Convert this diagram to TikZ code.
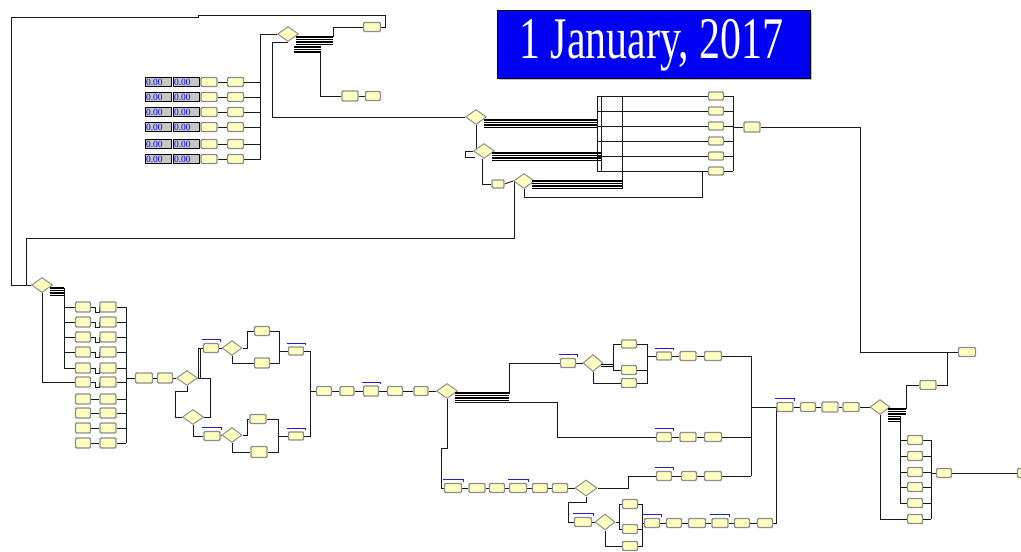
\documentclass[tikz,border=0pt]{standalone}
\usepackage{fontspec}
\setmainfont{Liberation Serif}
\usetikzlibrary{shapes.geometric,backgrounds,calc}
\definecolor{modfill}{HTML}{FFFFC0}
\definecolor{modedge}{HTML}{8E8E8E}
\definecolor{qblue}{HTML}{2020D0}
\definecolor{titleblue}{HTML}{0000F5}
\tikzset{
 mod/.style={draw=modedge, line width=1.4pt, fill=modfill, rounded corners=1.2pt, minimum width=16pt, minimum height=9pt, inner sep=0pt},
 dec/.style={diamond, draw=modedge, line width=1pt, fill=modfill, minimum width=21pt, minimum height=15pt, inner sep=0pt},
 disp/.style={draw=black, line width=1pt, fill=gray!45, minimum width=26pt, minimum height=8.5pt, inner sep=0pt, text=blue, font=\fontsize{9.5}{9}\selectfont},
 wire/.style={draw=black!90, line width=0.9pt},
 bund/.style={draw=black, line width=1.3pt},
 qbar/.style={draw=qblue, line width=1.1pt},
}
\newcommand\amod[4][]{\node[mod,#1] (#2) at (#3,#4) {};}
\newcommand\adec[4][]{\node[dec,#1] (#2) at (#3,#4) {};}
\newcommand\aqbar[1]{\draw[qbar] ($(#1.north west)+(-1,-3)$) -- ($(#1.north east)+(1,-3)$) -- ++(0,2);}
\begin{document}
\begin{tikzpicture}[x=1pt,y=-1pt]
\useasboundingbox (0,0) rectangle (1021,552);
\clip (0,0) rectangle (1021,552);
% title
\fill[gray!50] (499,12) rectangle (812,80);
\node[fill=titleblue, draw=black, line width=1pt, minimum width=313pt, minimum height=68pt, inner sep=0pt] (title) at (654,44) {};
\node[anchor=base, text=white, inner sep=0pt] (ttext) at (651.5,58) {\scalebox{0.712}[1]{\fontsize{59}{59}\selectfont 1 January, 2017}};
% ---------- top-left block ----------
\foreach \i/\y in {1/82,2/97,3/112,4/127,5/144,6/159}{
  \node[disp] (da\i) at (158.5,\y) {\makebox[25pt][l]{0.00}};
  \node[disp] (db\i) at (186.5,\y) {\makebox[25pt][l]{0.00}};
  \amod{ta\i}{209}{\y}
  \amod{tp\i}{235.5}{\y}
}
\adec{t1}{288}{34}
\amod[minimum width=17pt]{tr1}{372}{27}
\amod[minimum height=10pt]{tr2}{350}{96}
\amod[minimum width=15pt]{tr3}{373}{96}
% ---------- top-middle block ----------
\adec{d1}{476}{117}
\adec{d2}{484}{151}
\adec{d3}{524}{181}
\amod[minimum width=12pt,minimum height=8pt]{ma}{498}{184}
\foreach \i/\y in {1/96,2/111,3/126,4/141,5/156,6/171}{
  \amod[minimum width=15pt,minimum height=8pt]{r\i}{716}{\y}
}
\amod[minimum height=10pt]{ro}{752}{127}
\amod[minimum width=17pt]{rr}{967}{352}
\amod{as}{928}{385}
% ---------- lower-left block ----------
\adec{ll}{42}{285}
\foreach \i/\y in {1/307,2/322,3/337,4/352,5/368,6/382,7/399,8/413,9/428,10/443}{
  \amod[minimum width=15pt,minimum height=10pt]{l\i}{83}{\y}
  \amod[minimum height=10pt]{q\i}{108}{\y}
}
\amod[minimum width=17pt,minimum height=10pt]{n1}{144}{378}
\amod[minimum width=15pt,minimum height=10pt]{n2}{165}{378}
\adec{a}{187}{378}
\adec{b}{193}{417}
\amod[minimum width=15pt]{qa}{211}{348}
\amod{qb}{212}{436}
\adec[minimum width=20pt]{c1}{232}{348}
\adec[minimum width=20pt]{c2}{232}{435}
\amod[minimum width=15pt]{u1}{262}{331}
\amod[minimum width=15pt,minimum height=10pt]{u2}{262}{363}
\amod{u3}{258}{419}
\amod[minimum height=11pt]{u4}{259}{452}
\amod[minimum width=15pt,minimum height=8pt]{v1}{296}{351}
\amod[minimum width=15pt,minimum height=8pt]{v2}{296}{436}
\amod[minimum width=15pt]{w1}{324}{391}
\amod[minimum width=14pt]{w2}{347}{391}
\amod[minimum width=15pt,minimum height=10pt]{w3}{371}{391}
\amod[minimum width=15pt]{w4}{395}{391}
\amod[minimum width=14pt]{w5}{421}{391}
\adec{d}{447}{391}
% ---------- lower-middle block ----------
\amod[minimum width=15pt]{e1}{568}{363}
\adec[minimum width=20pt,minimum height=17pt]{e}{593}{363}
\amod[minimum width=15pt,minimum height=8pt]{g1}{629}{344}
\amod[minimum width=15pt]{g2}{629}{370}
\amod[minimum width=15pt]{g3}{629}{383}
\amod[minimum width=15pt,minimum height=8pt]{h1}{664}{356}
\amod{h2}{688}{356}
\amod[minimum width=17pt]{h3}{713}{356}
\amod[minimum width=15pt]{k1}{664}{437}
\amod{k2}{688}{437}
\amod[minimum width=17pt]{k3}{713}{437}
\amod[minimum width=17pt]{f1}{453}{488}
\amod{f2}{477}{488}
\amod[minimum width=15pt]{f3}{497}{488}
\amod[minimum width=17pt]{f4}{518}{488}
\amod[minimum width=15pt]{f5}{540}{488}
\amod[minimum width=15pt]{f6}{560}{488}
\adec[minimum width=22pt,minimum height=16pt]{fd}{586}{488}
\amod[minimum width=15pt]{j1}{664}{476}
\amod[minimum width=15pt]{j2}{689}{476}
\amod[minimum width=17pt]{j3}{713}{476}
\amod[minimum width=17pt]{p1}{583}{522}
\adec[minimum width=20pt,minimum height=16pt]{gd}{605}{522}
\amod[minimum width=15pt]{gx1}{630}{504}
\amod[minimum width=15pt]{gx2}{630}{529}
\amod[minimum width=15pt]{gx3}{630}{546}
\amod[minimum width=15pt]{s1}{652}{523}
\amod[minimum width=15pt]{s2}{674}{523}
\amod[minimum width=17pt]{s3}{697}{523}
\amod{s4}{720}{523}
\amod[minimum width=15pt]{s5}{742}{523}
\amod[minimum width=15pt]{s6}{765}{523}
% ---------- right block ----------
\amod{m1}{785}{407}
\amod[minimum width=15pt]{m2}{808}{407}
\amod[minimum height=10pt]{m3}{830}{407}
\amod{m4}{851}{407}
\adec[minimum width=20pt]{h}{880}{407}
\foreach \i/\y in {1/440,2/456,3/472,4/487,5/503,6/519}{
  \amod[minimum width=15pt]{z\i}{915}{\y}
}
\amod[minimum width=15pt]{y1}{944}{473}
\amod[minimum width=17pt]{ycut}{1026}{473}
% queue bars
\foreach \n in {qa,qb,v1,v2,w3,e1,h1,k1,j1,f1,f4,p1,s1,s4,m1}{\aqbar{\n}}
% bundles
\foreach \k in {37,39.5,42,44.5} \draw[bund] (296,\k) -- (333,\k);
\foreach \k in {47,49.5,52} \draw[bund] (294,\k) -- (321,\k);
\foreach \k in {120,122.5,125,127.5} \draw[bund] (484,\k) -- (597,\k);
\foreach \k in {153,155.5,158,160.5} \draw[bund] (492,\k) -- (601,\k);
\foreach \k in {181,183.5,186,188.5} \draw[bund] (532,\k) -- (622,\k);
\foreach \k in {288,290.5,293,295.5} \draw[bund] (50,\k) -- (64,\k);
\foreach \k in {393,395.5,398,400.5} \draw[bund] (455,\k) -- (509,\k);
\foreach \k in {364.5,366.5} \draw[bund] (601,\k) -- (613,\k);
\foreach \k in {409,411.5,414} \draw[bund] (888,\k) -- (906,\k);
\foreach \k in {416.5,419,421.5} \draw[bund] (888,\k) -- (900,\k);
% ---------- connectors ----------
\begin{pgfonlayer}{background}
\coordinate (tbus) at (260,34);
\foreach \i in {1,...,6}{
  \draw[wire] (ta\i.east) -- (tp\i.west);
  \draw[wire] (tp\i.east) -| (tbus);
}
\draw[wire] (tbus) -- (t1.west);
\coordinate (b1) at (333,37);
\coordinate (b2) at (320,52);
\draw[wire] (b1) |- (tr1.west);
\draw[wire] (b2) |- (tr2.west);
\draw[wire] (tr2.east) -- (tr3.west);
\coordinate (topa) at (198,15);
\coordinate (leftc) at (11,285);
\draw[wire] (tr1.east) -- ++(4,0) |- (topa) -- ++(0,2) -| (leftc) -- (ll.west);
\draw[wire] (t1.south) -| (272,117) -- (d1.west);
% top-middle
\coordinate (vbus) at (597,96);
\coordinate (rbus) at (733,96);
\foreach \i in {1,...,6}{
  \draw[wire] (vbus |- r\i.west) -- (r\i.west);
  \draw[wire] (r\i.east) -- (rbus |- r\i.east);
}
\draw[wire] (597,96) -- (597,171);
\draw[wire] (601,96) -- (601,171);
\draw[wire] (622,96) -- (622,188.5);
\draw[wire] (733,96) -- (733,171);
\draw[wire] (rbus |- ro.west) -- (ro.west);
\draw[wire] (ro.east) -| (860,352) -- (rr.west);
\draw[wire] (947,352) |- (as.east);
\draw[wire] (as.west) -| (906,409);
\draw[wire] (d1.south) -- (d1.south |- d2.center);
\draw[wire] (d2.west) -- ++(-8,0) -- ++(0,6) -- ++(10,0);
\draw[wire] ([xshift=-2pt]d2.south) |- (ma.west);
\draw[wire] (ma.east) -- (d3.west);
\draw[wire] ([xshift=1pt]d3.west) |- (26,238) -- (26,285);
\draw[wire] (702,171) |- (d3.south |- 0,197) -- (d3.south);
% lower-left
\coordinate (lbus) at (64,288);
\draw[wire] (64,288) -- (64,368);
\foreach \i in {1,...,5}{\draw[wire] (lbus |- l\i.west) -- (l\i.west);}
\draw[wire] (ll.south) |- (l6.west);
\foreach \i in {1,...,6}{\draw[wire] (l\i.east) -- ++(4,0) |- ++(4,5) |- (q\i.west);}
\foreach \i in {7,...,10}{\draw[wire] (l\i.east) -- (q\i.west);}
\coordinate (qbus) at (126,307);
\foreach \i in {1,...,10}{\draw[wire] (q\i.east) -- (qbus |- q\i.east);}
\draw[wire] (126,307) -- (126,443);
\draw[wire] (qbus |- n1.west) -- (n1.west);
\draw[wire] (n1.east) -- (n2.west);
\draw[wire] (n2.east) -- (a.west);
\draw[wire] (a.east) -| (198,348) -- (qa.west);
\draw[wire] (200.5,378) -- (200.5,348);
\draw[wire] (a.east) -| (210,417) -- (b.east);
\draw[wire] (a.south) |- (175,391) |- (b.west);
\draw[wire] (b.south) |- (qb.west);
\draw[wire] (qa.east) -- (c1.west);
\draw[wire] (qb.east) -- (c2.west);
\draw[wire] (c1.east) -- ++(5,0) |- (u1.west);
\draw[wire] (c1.south) |- (u2.west);
\draw[wire] (c2.east) -- ++(4.5,0) |- (u3.west);
\draw[wire] (c2.south) |- (u4.west);
\draw[wire] (u1.east) -| (279,351);
\draw[wire] (u2.east) -| (279,351) -- (v1.west);
\draw[wire] (u3.east) -| (278,436);
\draw[wire] (u4.east) -| (278,436) -- (v2.west);
\draw[wire] (v1.east) -| (310,391);
\draw[wire] (v2.east) -| (310,391) -- (w1.west);
\draw[wire] (w1.east) -- (w2.west);
\draw[wire] (w2.east) -- (w3.west);
\draw[wire] (w3.east) -- (w4.west);
\draw[wire] (w4.east) -- (w5.west);
\draw[wire] (w5.east) -- (d.west);
% lower-middle
\draw[wire] (509,394) |- (e1.west);
\draw[wire] (e1.east) -- (e.west);
\draw[wire] (455,402) -- (557,402) |- (k1.west);
\draw[wire] (d.south) |- (441,448) |- (f1.west);
\draw[wire] (g1.west) -| (613,370) -- (g2.west);
\draw[wire] (e.south) |- (g3.west);
\draw[wire] (g1.east) -| (647,383) -- (g3.east);
\draw[wire] (g2.east) -- (647,370);
\draw[wire] (647,356) -- (h1.west);
\draw[wire] (h1.east) -- (h2.west);
\draw[wire] (h2.east) -- (h3.west);
\draw[wire] (h3.east) -| (751,476);
\draw[wire] (k1.east) -- (k2.west);
\draw[wire] (k2.east) -- (k3.west);
\draw[wire] (k3.east) -- (751,437);
\draw[wire] (751,407) -- (m1.west);
\draw[wire] (f1.east) -- (f2.west);
\draw[wire] (f2.east) -- (f3.west);
\draw[wire] (f3.east) -- (f4.west);
\draw[wire] (f4.east) -- (f5.west);
\draw[wire] (f5.east) -- (f6.west);
\draw[wire] (f6.east) -- (fd.west);
\draw[wire] (fd.east) -| (628,476) -- (j1.west);
\draw[wire] (j1.east) -- (j2.west);
\draw[wire] (j2.east) -- (j3.west);
\draw[wire] (j3.east) -- (751,476);
\draw[wire] (fd.south) |- (568,502) |- (p1.west);
\draw[wire] (p1.east) -- (gd.west);
\draw[wire] (gd.east) -- (619,522);
\draw[wire] (gx1.west) -| (619,529) -- (gx2.west);
\draw[wire] (gd.south) |- (gx3.west);
\draw[wire] (gx1.east) -| (642,546) -- (gx3.east);
\draw[wire] (gx2.east) -- (642,529);
\draw[wire] (642,523) -- (s1.west);
\draw[wire] (s1.east) -- (s2.west);
\draw[wire] (s2.east) -- (s3.west);
\draw[wire] (s3.east) -- (s4.west);
\draw[wire] (s4.east) -- (s5.west);
\draw[wire] (s5.east) -- (s6.west);
\draw[wire] (s6.east) -| (776,407);
% right
\draw[wire] (m1.east) -- (m2.west);
\draw[wire] (m2.east) -- (m3.west);
\draw[wire] (m3.east) -- (m4.west);
\draw[wire] (m4.east) -- (h.west);
\coordinate (zbus) at (900,416);
\draw[wire] (900,416) -- (900,503);
\foreach \i in {1,...,5}{\draw[wire] (zbus |- z\i.west) -- (z\i.west);}
\draw[wire] (h.south) |- (z6.west);
\foreach \i in {1,...,6}{\draw[wire] (z\i.east) -- (931,0 |- z\i.east);}
\draw[wire] (931,440) -- (931,519);
\draw[wire] (931,473) -- (y1.west);
\draw[wire] (y1.east) -- (ycut.west);
\end{pgfonlayer}
\end{tikzpicture}
\end{document}
